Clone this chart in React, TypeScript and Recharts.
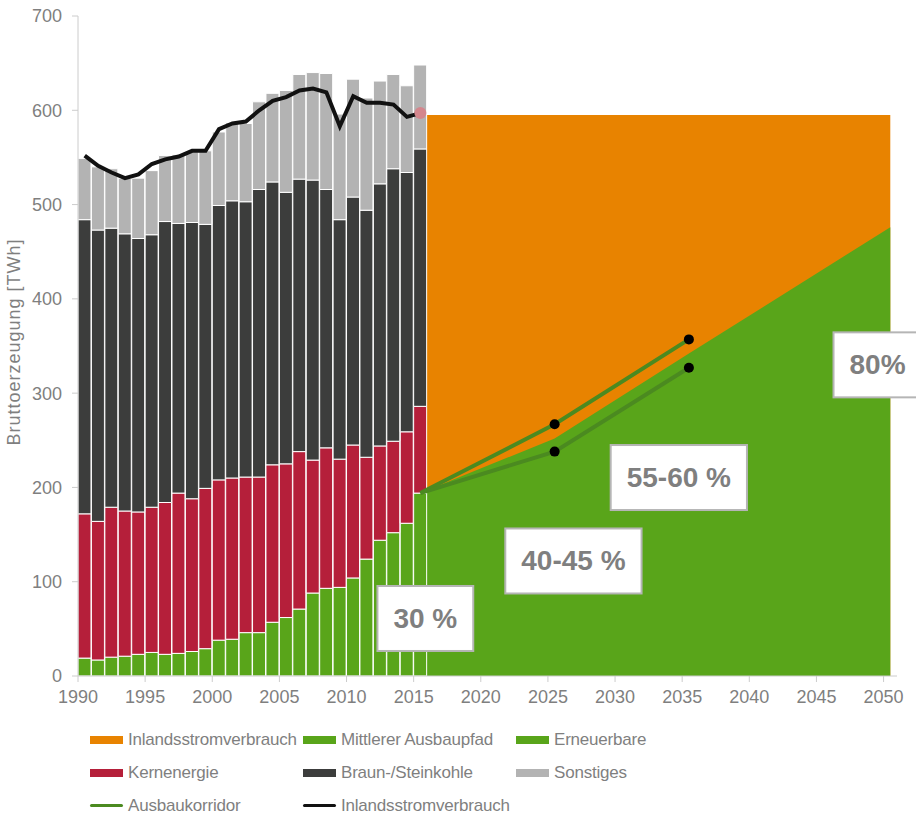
import {
  Area,
  Bar,
  ComposedChart,
  Label,
  Line,
  ReferenceDot,
  XAxis,
  YAxis,
} from "recharts";

// Historische Bruttostromerzeugung 1990–2015 [TWh]
const YEARS = [
  1990, 1991, 1992, 1993, 1994, 1995, 1996, 1997, 1998, 1999, 2000, 2001, 2002,
  2003, 2004, 2005, 2006, 2007, 2008, 2009, 2010, 2011, 2012, 2013, 2014, 2015,
];
const ERNEUERBARE = [
  19, 17, 20, 21, 23, 25, 23, 24, 26, 29, 38, 39, 46, 46, 57, 62, 71, 88, 93,
  94, 104, 124, 144, 152, 162, 194,
];
const KERNENERGIE = [
  153, 147, 159, 154, 151, 154, 161, 170, 162, 170, 170, 171, 165, 165, 167,
  163, 167, 141, 149, 136, 141, 108, 100, 97, 97, 92,
];
const KOHLE = [
  312, 309, 296, 294, 290, 289, 298, 286, 293, 280, 291, 294, 292, 305, 300,
  288, 289, 297, 274, 254, 263, 262, 278, 289, 275, 273,
];
const SONSTIGES = [
  65, 67, 63, 59, 64, 68, 70, 73, 75, 78, 78, 83, 83, 93, 94, 108, 111, 114,
  123, 112, 125, 119, 109, 100, 92, 89,
];
const VERBRAUCH = [
  552, 541, 534, 528, 532, 543, 548, 551, 557, 557, 580, 586, 588, 600, 610,
  614, 621, 623, 619, 583, 615, 608, 608, 606, 593, 597,
];

// Ausbaupfad bis 2050 (x = Jahresmitte, wie die Balken)
const PROJ_X = [2015.5, 2025.5, 2035.5, 2050.5];
const PROJ_VERBRAUCH = [595, 595, 595, 595];
const PROJ_PFAD = [194, 252, 342, 476];

const KORRIDOR_X = [2015.5, 2025.5, 2035.5];
const KORRIDOR_OBEN = [194, 267, 357];
const KORRIDOR_UNTEN = [194, 238, 327];

const X_TICKS = [
  1990, 1995, 2000, 2005, 2010, 2015, 2020, 2025, 2030, 2035, 2040, 2045, 2050,
];
const Y_TICKS = [0, 100, 200, 300, 400, 500, 600, 700];

// Anteil-Kästen: Text und Lage in Datenkoordinaten
const BOX_TEXT = ["30 %", "40-45 %", "55-60 %", "80%"];
const BOX_X = [2015.87, 2026.9, 2034.75, 2049.55];
const BOX_Y = [61, 122, 210.5, 330];

const ORANGE = "#e88300";
const GREEN = "#59a51a";
const RED = "#b51f3a";
const DARK = "#3c3d3c";
const LIGHT = "#b3b3b3";
const CORRIDOR = "#4b8a20";
const TEXT = "#7f7f7f";
const AXIS = "#cccccc";

type Row = { x: number; [key: string]: number };

const rowsByX = new Map<number, Row>();
const rowAt = (x: number): Row => {
  if (!rowsByX.has(x)) rowsByX.set(x, { x });
  return rowsByX.get(x)!;
};
YEARS.forEach((year, i) => {
  const row = rowAt(year + 0.5);
  row.erneuerbare = ERNEUERBARE[i];
  row.kernenergie = KERNENERGIE[i];
  row.kohle = KOHLE[i];
  row.sonstiges = SONSTIGES[i];
  row.verbrauch = VERBRAUCH[i];
});
PROJ_X.forEach((x, i) => {
  const row = rowAt(x);
  row.projVerbrauch = PROJ_VERBRAUCH[i];
  row.pfad = PROJ_PFAD[i];
});
KORRIDOR_X.forEach((x, i) => {
  const row = rowAt(x);
  row.oben = KORRIDOR_OBEN[i];
  row.unten = KORRIDOR_UNTEN[i];
});
const chartData = [...rowsByX.values()].sort((a, b) => a.x - b.x);

const BOX_PAD = 16;
const BOX_H = 65;

// rough bold Arial advance widths in em
const textWidth = (s: string, size: number) =>
  [...s].reduce(
    (w, c) =>
      w + (c === "%" ? 0.889 : c === " " ? 0.278 : c === "-" ? 0.333 : 0.556),
    0,
  ) * size;

const boxShape = (text: string) => (props: any) => {
  const { cx, cy } = props;
  const w = textWidth(text, 28) + BOX_PAD * 2;
  return (
    <g>
      <rect
        x={cx - w / 2}
        y={cy - BOX_H / 2}
        width={w}
        height={BOX_H}
        fill="#ffffff"
        stroke="#b5b5b5"
        strokeWidth={2}
      />
      <text
        x={cx}
        y={cy}
        textAnchor="middle"
        dominantBaseline="central"
        fontSize={28}
        fontWeight="bold"
        fill={TEXT}
      >
        {text}
      </text>
    </g>
  );
};

const corridorDot = (props: any) => {
  const { cx, cy, index } = props;
  if (index === undefined || cx == null || cy == null) return <g key={`d${index}`} />;
  const row = chartData[index];
  if (!row || row.x === KORRIDOR_X[0]) return <g key={`d${index}`} />;
  return <circle key={`d${index}`} cx={cx} cy={cy} r={5} fill="#000000" />;
};

const verbrauchDot = (props: any) => {
  const { cx, cy, index } = props;
  const row = chartData[index];
  if (!row || row.x !== YEARS[YEARS.length - 1] + 0.5 || cy == null)
    return <g key={`v${index}`} />;
  return <circle key={`v${index}`} cx={cx} cy={cy} r={6} fill="#d4868d" />;
};

const yLabel = (props: any) => {
  const vb = props.viewBox ?? { x: 0, y: 16, width: 78, height: 660 };
  const x = vb.x + 14;
  const y = vb.y + vb.height / 2 - 4;
  return (
    <text
      x={x}
      y={y}
      transform={`rotate(-90, ${x}, ${y})`}
      textAnchor="middle"
      dominantBaseline="central"
      fontSize={18}
      letterSpacing={1}
      fill={TEXT}
    >
      Bruttoerzeugung [TWh]
    </text>
  );
};

const LEGEND_ROWS: { label: string; color: string; line?: boolean }[][] = [
  [
    { label: "Inlandsstromverbrauch", color: ORANGE },
    { label: "Mittlerer Ausbaupfad", color: GREEN },
    { label: "Erneuerbare", color: GREEN },
  ],
  [
    { label: "Kernenergie", color: RED },
    { label: "Braun-/Steinkohle", color: DARK },
    { label: "Sonstiges", color: LIGHT },
  ],
  [
    { label: "Ausbaukorridor", color: CORRIDOR, line: true },
    { label: "Inlandsstromverbrauch", color: "#111111", line: true },
  ],
];

function ChartLegend() {
  return (
    <div
      style={{
        position: "absolute",
        left: 90,
        top: 723,
        display: "grid",
        gridTemplateColumns: "213px 213px 213px",
        gridAutoRows: "33px",
        alignItems: "center",
        fontSize: 17,
        letterSpacing: -0.2,
        color: TEXT,
      }}
    >
      {LEGEND_ROWS.flatMap((row, r) =>
        row.map((item, c) => (
          <div
            key={`${r}-${c}`}
            style={{ display: "flex", alignItems: "center", whiteSpace: "nowrap" }}
          >
            <span
              style={{
                display: "inline-block",
                width: 33,
                height: item.line ? 3.5 : 8,
                borderRadius: item.line ? 2 : 0,
                background: item.color,
                marginRight: 5,
              }}
            />
            {item.label}
          </div>
        )),
      )}
    </div>
  );
}

export default function App() {
  return (
    <div
      style={{
        position: "absolute",
        left: 0,
        top: 0,
        width: 916,
        height: 815,
        background: "#ffffff",
        fontFamily: '"Liberation Sans", Arial, sans-serif',
        overflow: "hidden",
      }}
    >
      <ComposedChart
        width={916}
        height={815}
        data={chartData}
        margin={{ top: 16, right: 19, bottom: 109, left: 0 }}
        barCategoryGap={0}
        barGap={0}
      >
        <XAxis
          type="number"
          dataKey="x"
          domain={[1990, 2051]}
          ticks={X_TICKS}
          interval={0}
          allowDataOverflow
          height={30}
          tickSize={6}
          tickMargin={8}
          tick={{ fontSize: 18, fill: TEXT }}
          axisLine={{ stroke: AXIS }}
          tickLine={{ stroke: AXIS }}
        />
        <YAxis
          type="number"
          domain={[0, 700]}
          ticks={Y_TICKS}
          interval={0}
          width={78}
          tickSize={6}
          tickMargin={10}
          tick={{ fontSize: 18, fill: TEXT }}
          axisLine={{ stroke: AXIS }}
          tickLine={{ stroke: AXIS }}
        >
          <Label content={yLabel} />
        </YAxis>

        <Area
          type="linear"
          dataKey="projVerbrauch"
          name="Inlandsstromverbrauch"
          fill={ORANGE}
          fillOpacity={1}
          stroke="none"
          isAnimationActive={false}
          dot={false}
          activeDot={false}
        />
        <Area
          type="linear"
          dataKey="pfad"
          name="Mittlerer Ausbaupfad"
          fill={GREEN}
          fillOpacity={1}
          stroke="none"
          isAnimationActive={false}
          dot={false}
          activeDot={false}
        />

        <Bar dataKey="erneuerbare" name="Erneuerbare" stackId="a" fill={GREEN} stroke="#ffffff" strokeWidth={1} isAnimationActive={false} />
        <Bar dataKey="kernenergie" name="Kernenergie" stackId="a" fill={RED} stroke="#ffffff" strokeWidth={1} isAnimationActive={false} />
        <Bar dataKey="kohle" name="Braun-/Steinkohle" stackId="a" fill={DARK} stroke="#ffffff" strokeWidth={1} isAnimationActive={false} />
        <Bar dataKey="sonstiges" name="Sonstiges" stackId="a" fill={LIGHT} stroke="#ffffff" strokeWidth={1} isAnimationActive={false} />

        <Line
          type="linear"
          dataKey="oben"
          name="Ausbaukorridor"
          stroke={CORRIDOR}
          strokeWidth={4}
          dot={corridorDot}
          activeDot={false}
          isAnimationActive={false}
        />
        <Line
          type="linear"
          dataKey="unten"
          name="Ausbaukorridor"
          stroke={CORRIDOR}
          strokeWidth={4}
          dot={corridorDot}
          activeDot={false}
          isAnimationActive={false}
        />
        <Line
          type="linear"
          dataKey="verbrauch"
          name="Inlandsstromverbrauch"
          stroke="#111111"
          strokeWidth={4}
          dot={verbrauchDot}
          activeDot={false}
          isAnimationActive={false}
        />

        {BOX_TEXT.map((t, i) => (
          <ReferenceDot
            key={t}
            x={BOX_X[i]}
            y={BOX_Y[i]}
            r={1}
            ifOverflow="visible"
            shape={boxShape(t)}
            zIndex={2000}
          />
        ))}
      </ComposedChart>
      <ChartLegend />
    </div>
  );
}
